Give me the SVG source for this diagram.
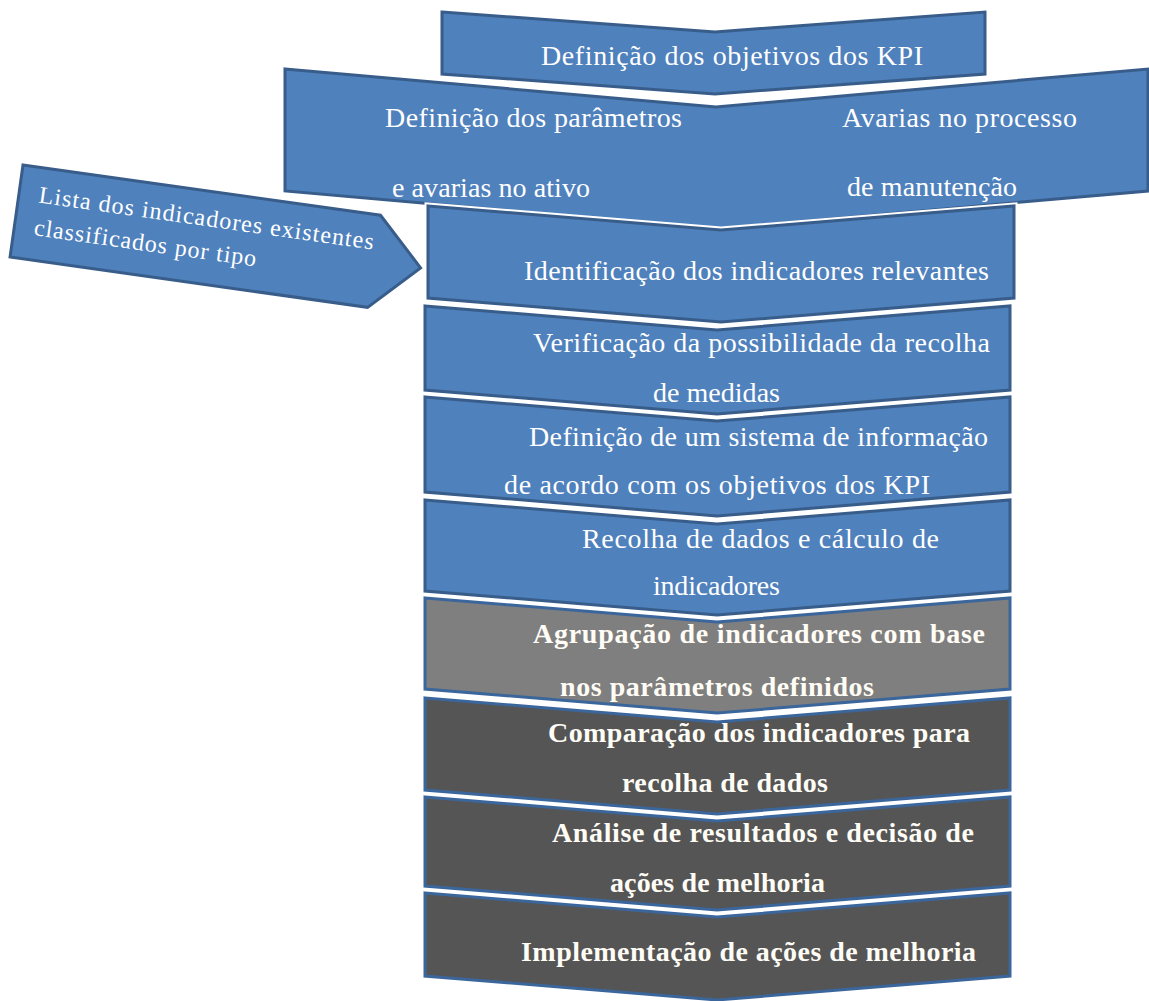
<svg xmlns="http://www.w3.org/2000/svg" width="1149" height="1001" viewBox="0 0 1149 1001">
<style>
.halo{fill:none;stroke:#ffffff;stroke-width:7;stroke-linejoin:miter}
.blue{fill:#4f81bd;stroke:#385d8a;stroke-width:3;stroke-linejoin:miter}
.gray{fill:#7f7f7f;stroke:#3b669c;stroke-width:3;stroke-linejoin:miter}
.dark{fill:#555555;stroke:#3b669c;stroke-width:3;stroke-linejoin:miter}
.t{font-family:"Liberation Serif","Times New Roman",serif;font-size:28px;fill:#ffffff}
.tb{font-family:"Liberation Serif","Times New Roman",serif;font-size:28px;font-weight:bold;fill:#fffdf5}
.ts{font-family:"Liberation Serif","Times New Roman",serif;font-size:24px;fill:#ffffff}
</style>
<rect width="1149" height="1001" fill="#ffffff"/>
<g id="connectors"></g>
<g id="n1">
<polygon class="blue" points="442,12 715,32 985,12 985,74 715,94 442,74"/>
<text class="t" x="541" y="65" textLength="382">Definição dos objetivos dos KPI</text>
</g>
<g id="n2">
<polygon class="halo" points="285,69 716,107 1148,69 1148,191 716,229 285,191"/>
<polygon class="blue" points="285,69 716,107 1148,69 1148,191 716,229 285,191"/>
<text class="t" x="385" y="127" textLength="297">Definição dos parâmetros</text>
<text class="t" x="842" y="127" textLength="235">Avarias no processo</text>
<text class="t" x="392" y="197" textLength="198">e avarias no ativo</text>
<text class="t" x="847" y="196" textLength="170">de manutenção</text>
</g>
<g id="n3" transform="translate(23,165) rotate(8)">
<polygon class="blue" points="0,0 361,0 408,46.5 361,93 0,93"/>
<text class="ts" x="20" y="35" textLength="338">Lista dos indicadores existentes</text>
<text class="ts" x="20" y="68" textLength="224">classificados por tipo</text>
</g>
<g id="n4">
<polygon class="halo" points="428,206 721,230 1014,206 1014,298 721,322 428,298"/>
<polygon class="blue" points="428,206 721,230 1014,206 1014,298 721,322 428,298"/>
<text class="t" x="524" y="280" textLength="465">Identificação dos indicadores relevantes</text>
</g>
<g id="n5">
<polygon class="halo" points="425,306 717,330 1010,306 1010,390 717,414 425,390"/>
<polygon class="blue" points="425,306 717,330 1010,306 1010,390 717,414 425,390"/>
<text class="t" x="533" y="352" textLength="457">Verificação da possibilidade da recolha</text>
<text class="t" x="653" y="402" textLength="127">de medidas</text>
</g>
<g id="n6">
<polygon class="halo" points="425,397 717,421 1010,397 1010,492 717,516 425,492"/>
<polygon class="blue" points="425,397 717,421 1010,397 1010,492 717,516 425,492"/>
<text class="t" x="529" y="446" textLength="459">Definição de um sistema de informação</text>
<text class="t" x="504" y="494" textLength="426">de acordo com os objetivos dos KPI</text>
</g>
<g id="n7">
<polygon class="halo" points="425,500 717,524 1010,500 1010,591 717,615 425,591"/>
<polygon class="blue" points="425,500 717,524 1010,500 1010,591 717,615 425,591"/>
<text class="t" x="582" y="548" textLength="357">Recolha de dados e cálculo de</text>
<text class="t" x="653" y="595" textLength="127">indicadores</text>
</g>
<g id="n8">
<polygon class="halo" points="425,598 717,622 1010,598 1010,689 717,713 425,689"/>
<polygon class="gray" points="425,598 717,622 1010,598 1010,689 717,713 425,689"/>
<text class="tb" x="533" y="643" textLength="452">Agrupação de indicadores com base</text>
<text class="tb" x="560" y="696" textLength="314">nos parâmetros definidos</text>
</g>
<g id="n9">
<polygon class="halo" points="425,698 717,722 1010,698 1010,790 717,814 425,790"/>
<polygon class="dark" points="425,698 717,722 1010,698 1010,790 717,814 425,790"/>
<text class="tb" x="548" y="742" textLength="422">Comparação dos indicadores para</text>
<text class="tb" x="622" y="792" textLength="206">recolha de dados</text>
</g>
<g id="n10">
<polygon class="halo" points="425,797 717,821 1010,797 1010,886 717,910 425,886"/>
<polygon class="dark" points="425,797 717,821 1010,797 1010,886 717,910 425,886"/>
<text class="tb" x="552" y="842" textLength="422">Análise de resultados e decisão de</text>
<text class="tb" x="610" y="892" textLength="215">ações de melhoria</text>
</g>
<g id="n11">
<polygon class="halo" points="425,893 717,917 1010,893 1010,976 717,1000 425,976"/>
<polygon class="dark" points="425,893 717,917 1010,893 1010,976 717,1000 425,976"/>
<text class="tb" x="521" y="961" textLength="455">Implementação de ações de melhoria</text>
</g>
</svg>
